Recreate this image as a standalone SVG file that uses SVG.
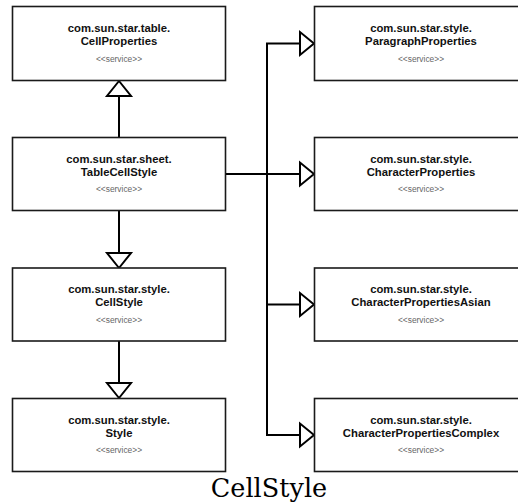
<svg xmlns="http://www.w3.org/2000/svg" width="518" height="504" viewBox="0 0 518 504">
<style>
.box{fill:#fff;stroke:#1a1a1a;stroke-width:1.6}
.t{font-family:"Liberation Sans",Arial,sans-serif;font-weight:bold;font-size:11.3px;fill:#111;text-anchor:middle}
.s{font-family:"Liberation Sans",Arial,sans-serif;font-size:8.4px;fill:#666;text-anchor:middle}
.ln{fill:none;stroke:#000;stroke-width:2}
.ah{fill:#fff;stroke:#000;stroke-width:2;stroke-linejoin:miter}
.title{font-family:"DejaVu Serif",serif;font-size:25.5px;fill:#000;text-anchor:middle}
</style>
<rect width="518" height="504" fill="#fff"/>
<g id="connectors">
<path class="ln" d="M119,137 V96"/>
<polygon class="ah" points="119,81 107,96 131,96"/>
<path class="ln" d="M119,211 V253"/>
<polygon class="ah" points="119,268 107,253 131,253"/>
<path class="ln" d="M119,341 V383"/>
<polygon class="ah" points="119,398 107,383 131,383"/>
<path class="ln" d="M226,174 H300"/>
<path class="ln" d="M300,43.5 H267 V435 H300"/>
<path class="ln" d="M267,304.5 H300"/>
<polygon class="ah" points="314,43.5 300,32 300,55"/>
<polygon class="ah" points="314,174 300,162.5 300,185.5"/>
<polygon class="ah" points="314,304.5 300,293 300,316"/>
<polygon class="ah" points="314,435 300,423.5 300,446.5"/>
</g>
<g id="n-cellproperties">
<rect class="box" x="12.5" y="6.5" width="213" height="74"/>
<text class="t" x="119" y="31.5">com.sun.star.table.</text>
<text class="t" x="119" y="44.5">CellProperties</text>
<text class="s" x="119" y="61.5">&lt;&lt;service&gt;&gt;</text>
</g>
<g id="n-tablecellstyle">
<rect class="box" x="12.5" y="137.5" width="213" height="73"/>
<text class="t" x="119" y="162.5">com.sun.star.sheet.</text>
<text class="t" x="119" y="175.5">TableCellStyle</text>
<text class="s" x="119" y="192">&lt;&lt;service&gt;&gt;</text>
</g>
<g id="n-cellstyle">
<rect class="box" x="12.5" y="268" width="213" height="73"/>
<text class="t" x="119" y="293">com.sun.star.style.</text>
<text class="t" x="119" y="306">CellStyle</text>
<text class="s" x="119" y="322.5">&lt;&lt;service&gt;&gt;</text>
</g>
<g id="n-style">
<rect class="box" x="12.5" y="398.5" width="213" height="73"/>
<text class="t" x="119" y="423.5">com.sun.star.style.</text>
<text class="t" x="119" y="436.5">Style</text>
<text class="s" x="119" y="453">&lt;&lt;service&gt;&gt;</text>
</g>
<g id="n-paragraphproperties">
<rect class="box" x="314.5" y="6.5" width="214" height="74"/>
<text class="t" x="421" y="31.5">com.sun.star.style.</text>
<text class="t" x="421" y="44.5">ParagraphProperties</text>
<text class="s" x="421" y="61.5">&lt;&lt;service&gt;&gt;</text>
</g>
<g id="n-characterproperties">
<rect class="box" x="314.5" y="137.5" width="214" height="73"/>
<text class="t" x="421" y="162.5">com.sun.star.style.</text>
<text class="t" x="421" y="175.5">CharacterProperties</text>
<text class="s" x="421" y="192">&lt;&lt;service&gt;&gt;</text>
</g>
<g id="n-characterpropertiesasian">
<rect class="box" x="314.5" y="268" width="214" height="73"/>
<text class="t" x="421" y="293">com.sun.star.style.</text>
<text class="t" x="421" y="306">CharacterPropertiesAsian</text>
<text class="s" x="421" y="322.5">&lt;&lt;service&gt;&gt;</text>
</g>
<g id="n-characterpropertiescomplex">
<rect class="box" x="314.5" y="398.5" width="214" height="73"/>
<text class="t" x="421" y="423.5">com.sun.star.style.</text>
<text class="t" x="421" y="436.5">CharacterPropertiesComplex</text>
<text class="s" x="421" y="453">&lt;&lt;service&gt;&gt;</text>
</g>
<text class="title" x="269" y="497">CellStyle</text>
</svg>
